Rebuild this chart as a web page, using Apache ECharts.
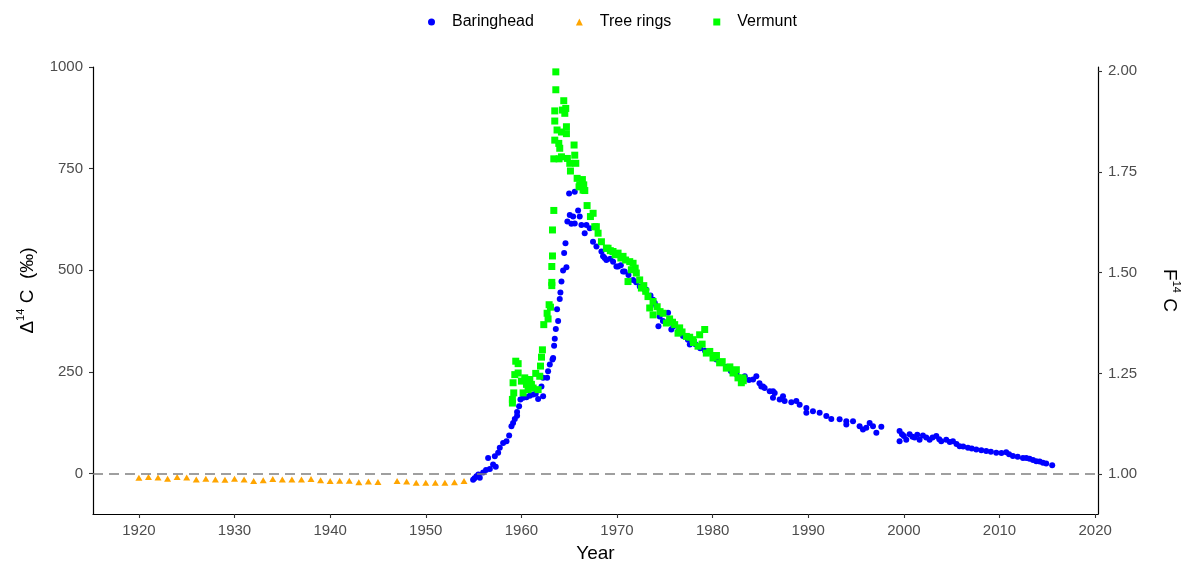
<!DOCTYPE html>
<html>
<head>
<meta charset="utf-8">
<title>Radiocarbon</title>
<script src="https://cdn.jsdelivr.net/npm/echarts@6/dist/echarts.min.js"></script>
<style>
  html, body { margin: 0; padding: 0; background: #fff; }
  #chart { width: 1189px; height: 564px; }
</style>
</head>
<body>
<div id="chart"></div>
<script>
// tree rings (orange triangles)
const treeYear = [1920, 1921, 1922, 1923, 1924, 1925, 1926, 1927, 1928, 1929, 1930, 1931, 1932,
  1933, 1934, 1935, 1936, 1937, 1938, 1939, 1940, 1941, 1942, 1943, 1944, 1945,
  1947, 1948, 1949, 1950, 1951, 1952, 1953, 1954];
const treeDelta = [-11, -9, -10, -13, -9, -10, -15, -13, -15, -16, -13, -15, -19,
  -17, -14, -15, -15, -15, -14, -17, -19, -18, -18, -22, -20, -21,
  -19, -20, -23, -23, -23, -23, -22, -19];

// Baringhead atmospheric record (blue circles)
const bhYear = [1954.95, 1955.1, 1955.3, 1955.5, 1955.65, 1956.0, 1956.3, 1956.7, 1956.52, 1957.04,
  1957.22, 1957.32, 1957.57, 1957.74, 1958.09, 1958.44, 1958.72, 1958.96, 1959.13, 1959.31,
  1959.55, 1959.55, 1959.76, 1959.9, 1960.18, 1960.53, 1960.88, 1961.23, 1961.5, 1961.75,
  1962.1, 1962.27, 1962.27, 1962.69, 1962.79, 1962.97, 1963.25, 1963.32, 1963.42, 1963.49,
  1963.6, 1963.73, 1963.84, 1964.01, 1964.08, 1964.19, 1964.36, 1964.47, 1964.61, 1964.71,
  1964.81, 1964.99, 1965.06, 1965.23, 1965.41, 1965.58, 1965.58, 1965.93, 1966.1, 1966.28,
  1966.62, 1966.8, 1967.15, 1967.49, 1967.85, 1968.37, 1968.54, 1968.71, 1968.89, 1969.3,
  1969.59, 1969.94, 1970.11, 1970.4, 1970.63, 1970.8, 1971.2, 1971.68, 1972.0, 1972.38,
  1972.9, 1973.07, 1973.5, 1973.77, 1973.95, 1974.12, 1974.33, 1974.46, 1974.8, 1975.34,
  1975.68, 1975.9, 1976.4, 1976.9, 1977.42, 1977.61, 1978.2, 1978.7, 1979.2, 1979.7,
  1980.39, 1980.9, 1981.4, 1981.9, 1982.5, 1983.36, 1983.8, 1984.23, 1984.57, 1984.9,
  1985.09, 1985.27, 1985.44, 1985.97, 1986.32, 1986.49, 1986.31, 1987.01, 1987.36, 1987.53,
  1988.23, 1988.75, 1989.1, 1989.8, 1989.8, 1990.49, 1991.19, 1991.89, 1992.41, 1993.28,
  1993.98, 1993.98, 1994.68, 1995.37, 1995.72, 1996.07, 1996.42, 1996.77, 1997.12, 1997.64,
  1999.55, 1999.55, 1999.8, 2000.0, 2000.25, 2000.6, 2000.9, 2001.12, 2001.4, 2001.64,
  2001.99, 2002.34, 2002.69, 2003.0, 2003.39, 2003.7, 2003.91, 2004.43, 2004.8, 2005.13,
  2005.5, 2005.83, 2006.2, 2006.7, 2007.1, 2007.57, 2008.1, 2008.61, 2009.1, 2009.66,
  2010.2, 2010.7, 2011.0, 2011.4, 2011.9, 2012.45, 2012.8, 2013.14, 2013.5, 2013.84,
  2014.2, 2014.54, 2014.88, 2015.51];
const bhDelta = [-16, -12, -7, -3, -11, 2, 8, 11, 38, 22,
  42, 16, 51, 63, 75, 79, 93, 116, 124, 134,
  142, 151, 165, 182, 186, 187, 191, 194, 196, 183,
  214, 190, 235, 235, 251, 268, 280, 284, 314, 331,
  355, 404, 375, 429, 445, 472, 499, 542, 566, 507,
  620, 689, 636, 614, 632, 615, 693, 647, 632, 611,
  591, 611, 603, 570, 558, 546, 534, 530, 525, 528,
  521, 509, 509, 512, 497, 497, 488, 476, 470, 460,
  452, 452, 438, 427, 419, 411, 362, 386, 375, 395,
  354, 362, 350, 338, 329, 317, 318, 308, 302, 300,
  280, 272, 262, 252, 244, 239, 230, 231, 239, 222,
  214, 214, 210, 202, 202, 198, 186, 182, 190, 178,
  175, 178, 169, 161, 149, 153, 149, 141, 134, 133,
  128, 120, 128, 116, 108, 112, 124, 116, 100, 115,
  104, 79, 96, 92, 83, 96, 90, 88, 95, 83,
  93, 88, 83, 88, 92, 84, 79, 83, 77, 79,
  72, 67, 66, 63, 61, 59, 57, 55, 53, 51,
  50, 52, 47, 43, 41, 38, 38, 36, 33, 30,
  29, 26, 24, 20];

// Vermunt record (green squares)
const vmYear = [1959.06, 1959.06, 1959.13, 1959.2, 1959.31, 1959.41, 1959.66, 1959.66, 1960.0, 1960.18,
  1960.35, 1960.53, 1960.7, 1960.88, 1961.05, 1961.23, 1961.5, 1961.75, 1961.92, 1962.0,
  1962.1, 1962.2, 1962.34, 1962.69, 1962.79, 1962.9, 1963.04, 1963.18, 1963.18, 1963.18,
  1963.25, 1963.25, 1963.39, 1963.39, 1963.49, 1963.49, 1963.49, 1963.6, 1963.6, 1963.73,
  1963.91, 1963.94, 1964.01, 1964.19, 1964.19, 1964.29, 1964.43, 1964.54, 1964.64, 1964.71,
  1964.71, 1964.81, 1965.06, 1965.13, 1965.51, 1965.58, 1965.69, 1965.83, 1966.03, 1966.1,
  1966.38, 1966.45, 1966.52, 1966.63, 1966.87, 1967.22, 1967.5, 1967.67, 1967.84, 1968.02,
  1968.37, 1968.89, 1969.06, 1969.3, 1969.58, 1969.8, 1970.11, 1970.4, 1970.63, 1970.9,
  1971.15, 1971.33, 1971.5, 1971.68, 1971.9, 1972.02, 1972.37, 1972.55, 1972.8, 1973.0,
  1973.24, 1973.42, 1973.77, 1973.77, 1974.2, 1974.5, 1974.81, 1975.16, 1975.5, 1975.8,
  1976.03, 1976.38, 1976.55, 1976.8, 1977.25, 1977.6, 1977.95, 1978.0, 1978.47, 1978.64,
  1978.9, 1979.17, 1979.34, 1979.7, 1980.04, 1980.4, 1980.73, 1981.0, 1981.43, 1981.8,
  1982.13, 1982.3, 1982.48, 1982.65, 1983.0, 1983.17, 1983.2];
const vmDelta = [182, 173, 223, 198, 243, 276, 270, 247, 227, 198,
  235, 219, 206, 231, 219, 210, 246, 206, 239, 264,
  286, 304, 366, 394, 380, 415, 409, 470, 462, 509,
  535, 599, 647, 774, 820, 867, 892, 988, 944, 845,
  812, 774, 800, 840, 779, 894, 917, 886, 898, 853,
  836, 775, 763, 744, 808, 783, 763, 726, 705, 710,
  723, 697, 710, 696, 659, 632, 640, 607, 607, 591,
  570, 554, 554, 548, 546, 538, 542, 530, 534, 525,
  472, 521, 501, 517, 505, 493, 476, 456, 462, 448,
  435, 407, 423, 390, 410, 398, 394, 370, 380, 372,
  366, 345, 358, 348, 337, 335, 329, 322, 313, 341,
  318, 354, 296, 300, 284, 290, 272, 275, 259, 262,
  247, 250, 255, 235, 223, 235, 228];

const xTicks = [1920, 1930, 1940, 1950, 1960, 1970, 1980, 1990, 2000, 2010, 2020];
const leftTicks = [0, 250, 500, 750, 1000];
const rightTicks = [1.00, 1.25, 1.50, 1.75, 2.00];

const FONT = "'Liberation Sans', Arial, Helvetica, sans-serif";
const zip = (xs, ys) => xs.map((x, i) => [x, ys[i]]);

const myChart = echarts.init(document.getElementById('chart'));

const axisLine = { show: true, onZero: false, lineStyle: { color: '#000', width: 1.2 } };
const axisTick = { show: true, length: 4, lineStyle: { color: '#333', width: 1.1 } };
const tickLabel = { color: '#4d4d4d', fontSize: 15, fontFamily: FONT };
const titleRich = {
    b: { fontSize: 19, color: '#000', fontFamily: FONT, lineHeight: 22, verticalAlign: 'bottom' },
    s: { fontSize: 11, color: '#000', fontFamily: FONT, lineHeight: 22, verticalAlign: 'top' },
};

const option = {
    backgroundColor: '#fff',
    animation: false,
    textStyle: { fontFamily: FONT },
    legend: {
        top: 9,
        left: 423,
        itemWidth: 7,
        itemHeight: 7,
        itemGap: 42,
        textStyle: { color: '#000', fontSize: 16, fontFamily: FONT, padding: [0, 0, 0, 12] },
        data: [
            { name: 'Baringhead', icon: 'circle' },
            { name: 'Tree rings', icon: 'triangle' },
            { name: 'Vermunt', icon: 'rect' },
        ],
    },
    grid: { left: 93, right: 91, top: 67, bottom: 50, outerBoundsMode: 'none', containLabel: false },
    xAxis: {
        type: 'value',
        min: 1915.2,
        max: 2020.3,
        name: 'Year',
        nameLocation: 'middle',
        nameGap: 30,
        nameTextStyle: { color: '#000', fontSize: 19, fontFamily: FONT },
        splitLine: { show: false },
        axisLine: axisLine,
        axisTick: Object.assign({ customValues: xTicks }, axisTick),
        axisLabel: Object.assign({
            customValues: xTicks,
            margin: 9,
            formatter: function (v) { return String(v); },
        }, tickLabel),
    },
    yAxis: [
        {
            type: 'value',
            min: -100,
            max: 1000,
            position: 'left',
            name: '{b|Δ}{s|14}{b| C  (‰)}',
            nameLocation: 'middle',
            nameGap: 56,
            nameRotate: 90,
            nameTextStyle: { rich: titleRich },
            splitLine: { show: false },
            axisLine: axisLine,
            axisTick: Object.assign({ customValues: leftTicks }, axisTick),
            axisLabel: Object.assign({
                customValues: leftTicks,
                margin: 10,
                formatter: function (v) { return String(v); },
            }, tickLabel),
        },
        {
            type: 'value',
            min: 0.9015,
            max: 2.0099,
            position: 'right',
            name: '{b|F}{s|14}{b| C}',
            nameLocation: 'middle',
            nameGap: 62,
            nameRotate: -90,
            nameTextStyle: { rich: titleRich },
            splitLine: { show: false },
            axisLine: axisLine,
            axisTick: Object.assign({ customValues: rightTicks }, axisTick),
            axisLabel: Object.assign({
                customValues: rightTicks,
                margin: 10,
                formatter: function (v) { return v.toFixed(2); },
            }, tickLabel),
        },
    ],
    series: [
        {
            name: 'zero',
            type: 'scatter',
            data: [],
            z: 1,
            silent: true,
            markLine: {
                silent: true,
                symbol: ['none', 'none'],
                label: { show: false },
                lineStyle: { color: '#808080', type: [10, 6], width: 1.5 },
                data: [{ yAxis: 0 }],
            },
        },
        {
            name: 'Baringhead',
            type: 'scatter',
            z: 2,
            symbol: 'circle',
            symbolSize: 6,
            itemStyle: { color: '#0000ff', opacity: 1 },
            data: zip(bhYear, bhDelta),
        },
        {
            name: 'Tree rings',
            type: 'scatter',
            z: 2,
            symbol: 'triangle',
            symbolSize: [7, 6],
            itemStyle: { color: '#ffa500', opacity: 1 },
            data: zip(treeYear, treeDelta),
        },
        {
            name: 'Vermunt',
            type: 'scatter',
            z: 2,
            symbol: 'rect',
            symbolSize: 7,
            itemStyle: { color: '#00ff00', opacity: 1 },
            data: zip(vmYear, vmDelta),
        },
    ],
};

option && myChart.setOption(option);
</script>
</body>
</html>
